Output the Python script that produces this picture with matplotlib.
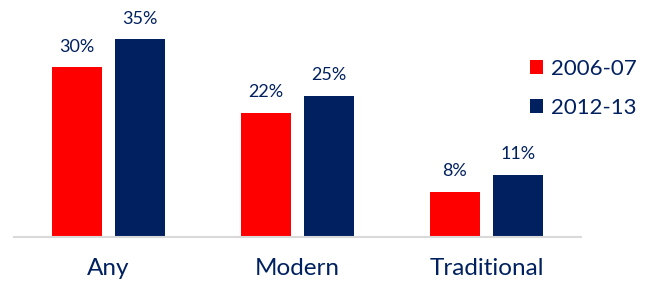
import matplotlib.pyplot as plt
import numpy as np

plt.rcParams['font.family'] = ['Lato', 'DejaVu Sans']

categories = ['Any', 'Modern', 'Traditional']
series_names = ['2006-07', '2012-13']
values_0607 = [30, 22, 8]
values_1213 = [35, 25, 11]

RED = '#FF0000'
NAVY = '#002060'

fig = plt.figure(figsize=(6.49, 2.85), dpi=100)
ax = fig.add_axes([14 / 649, 48 / 285, 567 / 649, 237 / 285])

x = np.arange(len(categories))
width = 0.266
offset = 0.167

bars_a = ax.bar(x - offset, values_0607, width, color=RED, label=series_names[0])
bars_b = ax.bar(x + offset, values_1213, width, color=NAVY, label=series_names[1])

for bars in (bars_a, bars_b):
    for b in bars:
        ax.annotate(f'{b.get_height():.0f}%',
                    (b.get_x() + b.get_width() / 2, b.get_height()),
                    xytext=(0, 9), textcoords='offset points',
                    ha='center', va='bottom', fontsize=13, color=NAVY)

ax.set_xlim(-0.5, 2.5)
ax.set_ylim(0, 41.9)
ax.set_xticks(x)
ax.set_xticklabels(categories, fontsize=17.5, color=NAVY)
ax.tick_params(axis='x', length=0, pad=15)
ax.set_yticks([])
for s in ('top', 'right', 'left'):
    ax.spines[s].set_visible(False)
ax.spines['bottom'].set_color('#D9D9D9')
ax.spines['bottom'].set_linewidth(1.5)

leg = fig.legend(loc='upper left', bbox_to_anchor=(521 / 649, 1 - 50 / 285),
                 frameon=False, fontsize=16, handlelength=0.6, handleheight=0.6,
                 handletextpad=0.35, labelspacing=0.85, borderaxespad=0)
for t in leg.get_texts():
    t.set_color(NAVY)

fig.savefig('out.png', dpi=100)
